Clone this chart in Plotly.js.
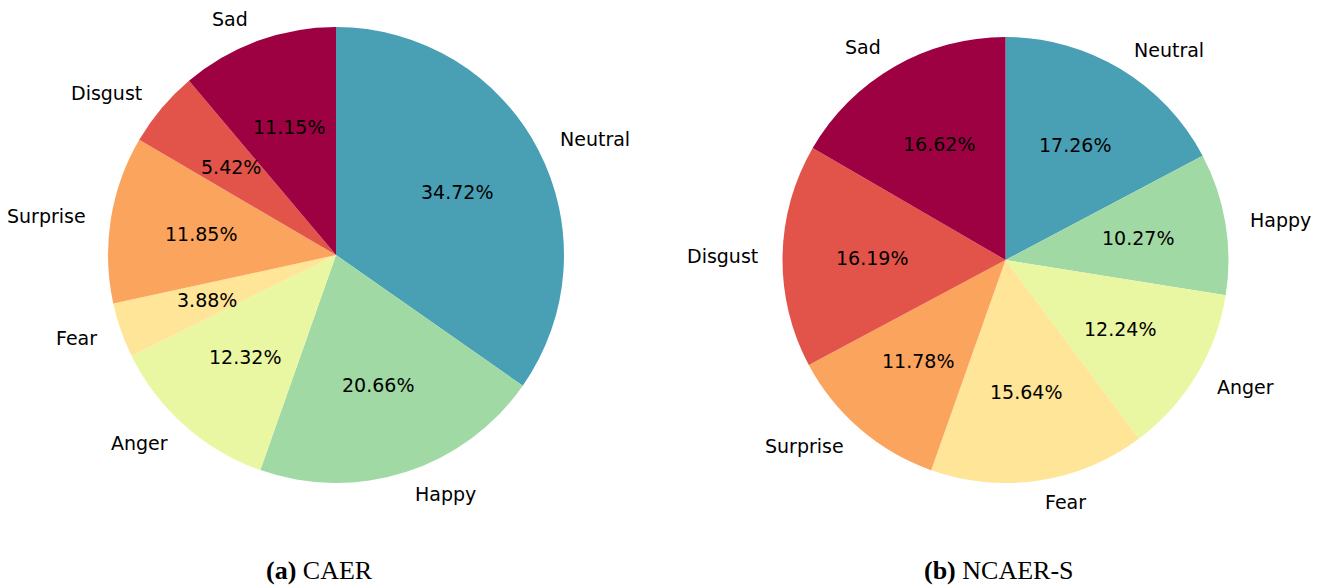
<!DOCTYPE html>
<html><head><meta charset="utf-8">
<script src="https://cdn.plot.ly/plotly-3.0.1.min.js"></script>
<style>body{margin:0;background:#fff}#chart{width:1322px;height:585px}</style>
</head><body><div id="chart"></div>
<script>
const categories = ['Neutral','Happy','Anger','Fear','Surprise','Disgust','Sad'];
const caerValues = [34.72, 20.66, 12.32, 3.88, 11.85, 5.42, 11.15];
const ncaerValues = [17.26, 10.27, 12.24, 15.64, 11.78, 16.19, 16.62];
const colors = ['#49a0b5','#a1d9a4','#eaf7a2','#fee597','#fba45d','#e2534a','#9e0142'];
const captions = ['<b>(a)</b> CAER', '<b>(b)</b> NCAER-S'];

const W = 1322, H = 585;
// pie geometry (pixels): centre and radius; caption centre x
const pies = [
  {cx:336, cy:255, r:228, capx:319},
  {cx:1005.5, cy:260, r:223, capx:999}
];
const datasets = [caerValues, ncaerValues];
const traces = [];
const annotations = [];
datasets.forEach((vals, i) => {
  const p = pies[i];
  const domain = {
    x:[(p.cx - p.r)/W, (p.cx + p.r)/W],
    y:[1 - (p.cy + p.r)/H, 1 - (p.cy - p.r)/H]
  };
  traces.push({
    type:'pie', values: vals, labels: categories, sort:false, direction:'clockwise', rotation:0,
    domain: domain, marker:{colors: colors, line:{width:0}},
    textinfo:'none', hoverinfo:'skip', showlegend:false
  });
  const total = vals.reduce((a,b)=>a+b,0);
  let cum = 0;
  vals.forEach((v, k) => {
    const mid = (cum + v/2) / total;
    cum += v;
    const th = (90 - 360*mid) * Math.PI/180;
    const c = Math.cos(th), s = Math.sin(th);
    annotations.push({
      text: v.toFixed(2) + '%', xref:'paper', yref:'paper',
      x: (p.cx + 0.6*p.r*c)/W, y: 1 - (p.cy - 0.6*p.r*s)/H,
      xanchor:'center', yanchor:'middle', showarrow:false,
      font:{family:'DejaVu Sans', size:19, color:'#000'}
    });
    annotations.push({
      text: categories[k], xref:'paper', yref:'paper',
      x: (p.cx + 1.1*p.r*c)/W, y: 1 - (p.cy - 1.1*p.r*s)/H,
      xanchor: c > 0 ? 'left' : 'right', yanchor:'middle', showarrow:false,
      font:{family:'DejaVu Sans', size:19, color:'#000'}
    });
  });
  annotations.push({
    text: captions[i], xref:'paper', yref:'paper', x: p.capx/W, y: 1 - 570/H,
    xanchor:'center', yanchor:'middle', showarrow:false,
    font:{family:'Liberation Serif', size:26, color:'#000'}
  });
});
const layout = {
  width:W, height:H, margin:{l:0,r:0,t:0,b:0}, paper_bgcolor:'#fff', showlegend:false,
  annotations: annotations
};
Plotly.newPlot('chart', traces, layout, {displayModeBar:false, staticPlot:true});
</script></body></html>
